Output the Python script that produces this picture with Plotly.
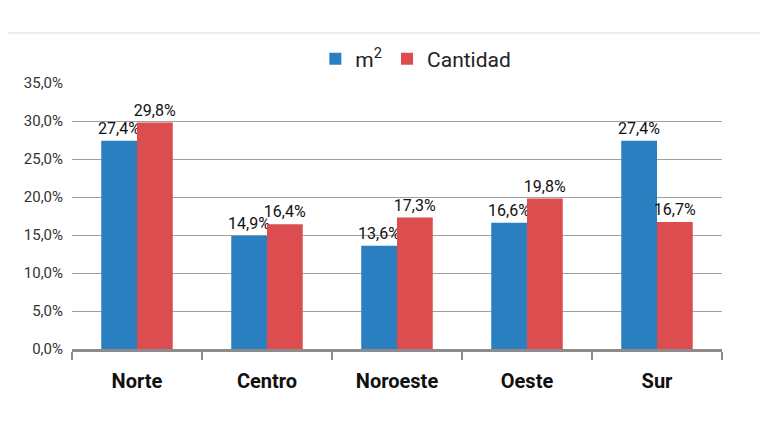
import plotly.graph_objects as go

categories = ["Norte", "Centro", "Noroeste", "Oeste", "Sur"]
m2_values = [27.4, 14.9, 13.6, 16.6, 27.4]
cantidad_values = [29.8, 16.4, 17.3, 19.8, 16.7]
series_names = ["m<sup>2</sup>", "Cantidad"]
y_ticks = [0, 5, 10, 15, 20, 25, 30, 35]
y_tick_labels = ["0,0%", "5,0%", "10,0%", "15,0%", "20,0%", "25,0%", "30,0%", "35,0%"]

blue = "#2A7FC1"
red = "#DB4D4F"

fig = go.Figure()
for name, vals, col in [(series_names[0], m2_values, blue), (series_names[1], cantidad_values, red)]:
    fig.add_trace(go.Bar(
        x=categories, y=vals, name=name, marker_color=col,
        marker_line_width=0,
        texttemplate="%{y:.1f}%", textposition="outside",
        textfont=dict(family="Roboto", size=16, color="#111111"),
        constraintext="none",
        cliponaxis=False,
    ))

fig.update_layout(
    width=768, height=432,
    paper_bgcolor="white", plot_bgcolor="white",
    margin=dict(l=64, r=54, t=75, b=91),
    barmode="group", bargap=0.45, bargroupgap=0,
    separators=",.",
    font=dict(family="Roboto", color="#222222"),
    legend=dict(orientation="h", x=0.529, xanchor="center", y=1.09, yanchor="middle",
                font=dict(family="Roboto", size=21, color="#222222"),
                itemsizing="constant", itemwidth=30, traceorder="normal"),
    xaxis=dict(
        tickson="boundaries", ticks="outside", ticklen=8, tickwidth=2, tickcolor="#8c8c8c",
        showline=True, linecolor="#8c8c8c", linewidth=3,
        tickfont=dict(family="Roboto", size=20, color="#111111", weight="bold"),
        ticklabelstandoff=12,
        showgrid=False,
    ),
    yaxis=dict(
        range=[0, 35], tickvals=y_ticks, ticktext=y_tick_labels,
        showgrid=True, gridcolor="#a0a0a0", gridwidth=1,
        tickfont=dict(family="Roboto", size=15, color="#333333"),
        zeroline=False, showline=False, ticks="", ticklabelstandoff=8,
    ),
    shapes=[dict(type="line", xref="paper", yref="paper",
                 x0=-0.0985, x1=1.058, y0=1.188, y1=1.188,
                 line=dict(color="#e6e6e6", width=1.5))],
)

fig.write_html("out.html")
